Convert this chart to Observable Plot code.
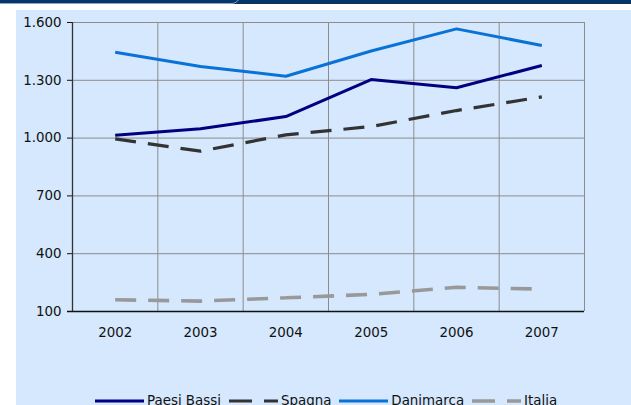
<!DOCTYPE html>
<html>
<head>
<meta charset="utf-8">
<script src="https://cdn.jsdelivr.net/npm/d3@7"></script>
<script src="https://cdn.jsdelivr.net/npm/@observablehq/plot@0.6"></script>
<style>
  html, body { margin: 0; padding: 0; background: #ffffff; }
  body { width: 631px; height: 405px; position: relative; overflow: hidden; font-family: "DejaVu Sans", Verdana, sans-serif; }
  #band { position: absolute; left: 0; top: 0; width: 631px; height: 4px; background: #063668; overflow: hidden; }
  #band .pill { position: absolute; left: -8px; top: -20px; width: 246px; height: 22px; border: 1px solid #8aa6c4; border-radius: 8px; }
  #panel { position: absolute; left: 16px; top: 10px; width: 615px; height: 395px; background: #D5E8FD; overflow: hidden; }
  #chart { position: absolute; left: 0; top: 0; }
  #legend { position: absolute; left: 79px; top: 383px; display: flex; align-items: center; font-size: 13.4px; color: #111; white-space: nowrap; }
  #legend .item { display: flex; align-items: center; margin-right: 8px; }
  #legend svg { display: block; margin-right: 3px; }
</style>
</head>
<body>
<div id="band"><div class="pill"></div></div>
<div id="panel">
  <div id="chart"></div>
  <div id="legend"></div>
</div>
<script>
const years = [2002, 2003, 2004, 2005, 2006, 2007];
const paesiBassi = [1015, 1048, 1112, 1304, 1261, 1377];
const spagna = [996, 932, 1017, 1060, 1143, 1214];
const danimarca = [1446, 1372, 1321, 1452, 1567, 1481];
const italia = [161, 154, 171, 189, 226, 216];
const yTicks = [100, 400, 700, 1000, 1300, 1600];
const seriesNames = ["Paesi Bassi", "Spagna", "Danimarca", "Italia"];

const seriesStyle = {
  "Paesi Bassi": {stroke: "#000080", dash: null, width: 3},
  "Spagna": {stroke: "#333333", dash: "21,12", width: 3.2},
  "Danimarca": {stroke: "#0A72D6", dash: null, width: 3},
  "Italia": {stroke: "#999999", dash: "21,12", width: 3.6}
};
const seriesValues = {"Paesi Bassi": paesiBassi, "Spagna": spagna, "Danimarca": danimarca, "Italia": italia};

const rows = seriesNames.flatMap(s => years.map((y, i) => ({series: s, year: y, value: seriesValues[s][i]})));
const xDomain = [years[0] - 0.5, years[years.length - 1] + 0.5];
const xGrid = years.map(y => y + 0.5);
const yDomain = [yTicks[0], yTicks[yTicks.length - 1]];
const fmt = d => d3.format(",")(d).replace(/,/g, ".");

const drawOrder = ["Italia", "Spagna", "Danimarca", "Paesi Bassi"];

const plot = Plot.plot({
  width: 615,
  height: 345,
  marginLeft: 56,
  marginRight: 47,
  marginTop: 12,
  marginBottom: 44,
  style: {background: "transparent", fontFamily: "'DejaVu Sans', Verdana, sans-serif", fontSize: "13.4px", color: "#111"},
  x: {type: "linear", domain: xDomain, ticks: years, tickFormat: d => String(d), tickSize: 0, tickPadding: 16, label: null},
  y: {domain: yDomain, ticks: yTicks, tickFormat: fmt, tickSize: 5, tickPadding: 6, label: null},
  marks: [
    Plot.ruleY(yTicks.slice(1), {stroke: "#8c8c8c", strokeWidth: 1, strokeOpacity: 1}),
    Plot.ruleX(xGrid, {stroke: "#8c8c8c", strokeWidth: 1, strokeOpacity: 1}),
    ...drawOrder.map(s => Plot.line(rows.filter(r => r.series === s), {
      x: "year", y: "value",
      stroke: seriesStyle[s].stroke,
      strokeWidth: seriesStyle[s].width,
      strokeDasharray: seriesStyle[s].dash,
      strokeLinejoin: "miter",
      strokeLinecap: "butt"
    })),
    Plot.ruleX([xDomain[0]], {stroke: "#333", strokeWidth: 1.3}),
    Plot.ruleY([yDomain[0]], {stroke: "#111", strokeWidth: 1.5, x1: xDomain[0], x2: xDomain[1], insetLeft: -5})
  ]
});
document.getElementById("chart").appendChild(plot);

const legend = document.getElementById("legend");
for (const s of seriesNames) {
  const st = seriesStyle[s];
  const item = document.createElement("div");
  item.className = "item";
  const ns = "http://www.w3.org/2000/svg";
  const svg = document.createElementNS(ns, "svg");
  svg.setAttribute("width", 49);
  svg.setAttribute("height", 8);
  const line = document.createElementNS(ns, "line");
  line.setAttribute("x1", 0); line.setAttribute("x2", 49);
  line.setAttribute("y1", 4); line.setAttribute("y2", 4);
  line.setAttribute("stroke", st.stroke);
  line.setAttribute("stroke-width", st.width);
  if (st.dash) line.setAttribute("stroke-dasharray", "23,12");
  svg.appendChild(line);
  item.appendChild(svg);
  const t = document.createElement("span");
  t.textContent = s;
  item.appendChild(t);
  legend.appendChild(item);
}
</script>
</body>
</html>
